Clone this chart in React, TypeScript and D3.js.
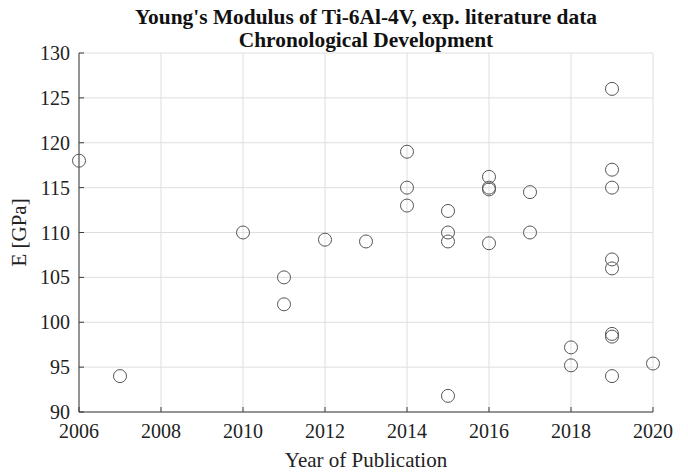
import React from "react";
import * as d3 from "d3";

// Publication year and measured Young's modulus (GPa) for Ti-6Al-4V
const years = [
  2006, 2007, 2010, 2011, 2011, 2012, 2013,
  2014, 2014, 2014,
  2015, 2015, 2015, 2015,
  2016, 2016, 2016, 2016,
  2017, 2017,
  2018, 2018,
  2019, 2019, 2019, 2019, 2019, 2019, 2019, 2019,
  2020,
];
const modulus = [
  118, 94, 110, 105, 102, 109.2, 109,
  119, 115, 113,
  112.4, 110, 109, 91.8,
  116.2, 115, 114.8, 108.8,
  114.5, 110,
  97.2, 95.2,
  126, 117, 115, 107, 106, 98.7, 98.4, 94,
  95.4,
];
const xTicks = [2006, 2008, 2010, 2012, 2014, 2016, 2018, 2020];
const yTicks = [90, 95, 100, 105, 110, 115, 120, 125, 130];

const W = 688;
const H = 472;
const M = { left: 79, right: 35, top: 53, bottom: 60 };

export default function App() {
  const x = d3.scaleLinear().domain([2006, 2020]).range([M.left, W - M.right]);
  const y = d3.scaleLinear().domain([90, 130]).range([H - M.bottom, M.top]);
  const font = "'Liberation Serif', 'Times New Roman', serif";
  const axisColor = "#3a3a3a";
  const gridColor = "#dedede";
  const x0 = x(2006), x1 = x(2020), y0 = y(90), y1 = y(130);

  return (
    <svg width={W} height={H} style={{ position: "absolute", left: 0, top: 0, background: "#fff" }}>
      <g fontFamily={font}>
        {/* grid */}
        {xTicks.map((t) => (
          <line key={"gx" + t} x1={x(t)} x2={x(t)} y1={y0} y2={y1} stroke={gridColor} strokeWidth={1} />
        ))}
        {yTicks.map((t) => (
          <line key={"gy" + t} x1={x0} x2={x1} y1={y(t)} y2={y(t)} stroke={gridColor} strokeWidth={1} />
        ))}

        {/* axes */}
        <line x1={x0} x2={x1} y1={y0} y2={y0} stroke={axisColor} strokeWidth={1} />
        <line x1={x0} x2={x0} y1={y0} y2={y1} stroke={axisColor} strokeWidth={1} />
        {xTicks.map((t) => (
          <g key={"tx" + t}>
            <line x1={x(t)} x2={x(t)} y1={y0} y2={y0 - 5} stroke={axisColor} strokeWidth={1} />
            <text x={x(t)} y={y0 + 26} textAnchor="middle" fontSize={20} fill="#222">{t}</text>
          </g>
        ))}
        {yTicks.map((t) => (
          <g key={"ty" + t}>
            <line x1={x0} x2={x0 + 5} y1={y(t)} y2={y(t)} stroke={axisColor} strokeWidth={1} />
            <text x={x0 - 9} y={y(t) + 7} textAnchor="end" fontSize={20} fill="#222">{t}</text>
          </g>
        ))}

        {/* points */}
        {years.map((yr, i) => (
          <circle key={"p" + i} cx={x(yr)} cy={y(modulus[i])} r={6.5} fill="none" stroke="#555" strokeWidth={1} />
        ))}

        {/* labels */}
        <text x={(x0 + x1) / 2} y={24} textAnchor="middle" fontSize={21.4} fontWeight="bold" fill="#111">
          Young's Modulus of Ti-6Al-4V, exp. literature data
        </text>
        <text x={(x0 + x1) / 2} y={47} textAnchor="middle" fontSize={21.4} fontWeight="bold" fill="#111">
          Chronological Development
        </text>
        <text x={(x0 + x1) / 2} y={467} textAnchor="middle" fontSize={21} fill="#222">
          Year of Publication
        </text>
        <text transform={`translate(26, ${(y0 + y1) / 2}) rotate(-90)`} textAnchor="middle" fontSize={21} fill="#222">
          E [GPa]
        </text>
      </g>
    </svg>
  );
}
